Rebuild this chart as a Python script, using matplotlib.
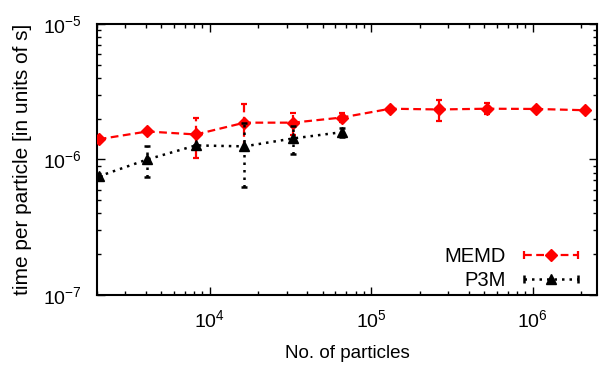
import matplotlib
matplotlib.use("Agg")
import matplotlib.pyplot as plt
from matplotlib.lines import Line2D
from matplotlib.legend_handler import HandlerLine2D, HandlerTuple
from matplotlib.ticker import LogLocator, NullFormatter
import numpy as np

plt.rcParams['font.family'] = ['Liberation Sans', 'DejaVu Sans']
plt.rcParams['mathtext.fontset'] = 'custom'
plt.rcParams['mathtext.rm'] = 'Liberation Sans'
plt.rcParams['mathtext.it'] = 'Liberation Sans'
plt.rcParams['mathtext.default'] = 'rm'

# particle counts
n_memd = [2048, 4096, 8192, 16384, 32768, 65536, 131072, 262144, 524288, 1048576, 2097152]
t_memd = [1.41e-6, 1.61e-6, 1.53e-6, 1.87e-6, 1.87e-6, 2.04e-6, 2.37e-6, 2.34e-6, 2.37e-6, 2.36e-6, 2.31e-6]
e_memd = [0.0, 0.0, 0.5e-6, 0.68e-6, 0.35e-6, 0.15e-6, 0.0, 0.42e-6, 0.22e-6, 0.0, 0.0]

n_p3m = [2048, 4096, 8192, 16384, 32768, 65536]
t_p3m = [0.75e-6, 1.0e-6, 1.27e-6, 1.25e-6, 1.43e-6, 1.59e-6]
e_p3m = [0.0, 0.26e-6, 0.0, 0.62e-6, 0.34e-6, 0.12e-6]

RED = '#ff0000'

fig = plt.figure(figsize=(6.12, 3.68), dpi=100)
ax = fig.add_axes([0.1585, 0.1984, 0.817, 0.7364])

# MEMD
eb1 = ax.errorbar(n_memd, t_memd, yerr=e_memd, color=RED, ls=(0, (3.5, 2)), lw=1.6,
                  marker='D', ms=6.5, capsize=2.3, elinewidth=1.6, capthick=1.6, zorder=3)
eb1[-1][0].set_linestyle((0, (3.5, 2)))
# P3M
eb2 = ax.errorbar(n_p3m, t_p3m, yerr=e_p3m, color='black', ls=(0, (1, 2)), lw=1.8,
                  marker='^', ms=7, capsize=2.3, elinewidth=1.8, capthick=1.8, zorder=4)
eb2[-1][0].set_linestyle((0, (1, 2)))

ax.set_xscale('log')
ax.set_yscale('log')
ax.set_xlim(2000, 2.5e6)
ax.set_ylim(1e-7, 1e-5)

ax.xaxis.set_minor_locator(LogLocator(base=10, subs=np.arange(2, 10), numticks=20))
ax.yaxis.set_minor_locator(LogLocator(base=10, subs=np.arange(2, 10), numticks=20))
ax.xaxis.set_minor_formatter(NullFormatter())
ax.yaxis.set_minor_formatter(NullFormatter())
ax.tick_params(which='both', direction='in', top=True, right=True, labelsize=14)
ax.tick_params(which='major', length=6, width=1)
ax.tick_params(which='minor', length=3, width=1)
ax.tick_params(axis='x', which='major', pad=10)
ax.tick_params(axis='y', which='major', pad=11)
for s in ax.spines.values():
    s.set_linewidth(1.5)

ax.set_xlabel('No. of particles', fontsize=13.5, labelpad=10)
ax.set_ylabel('time per particle [in units of s]', fontsize=15, labelpad=8)

# legend: line with end caps plus one marker in the middle
c1 = Line2D([], [], color=RED, ls=(0, (3.5, 2)), lw=1.6, marker='|', ms=6, mew=1.6)
m1 = Line2D([], [], color=RED, ls='none', marker='D', ms=6)
c2 = Line2D([], [], color='black', ls=(0, (1, 2)), lw=1.8, marker='|', ms=6, mew=1.8)
m2 = Line2D([], [], color='black', ls='none', marker='^', ms=6.5)
hmap = {c1: HandlerLine2D(numpoints=2), c2: HandlerLine2D(numpoints=2),
        m1: HandlerLine2D(numpoints=1), m2: HandlerLine2D(numpoints=1),
        tuple: HandlerTuple(ndivide=1)}
ax.legend([(c1, m1), (c2, m2)], ['MEMD', 'P3M'], handler_map=hmap,
          loc='lower right', bbox_to_anchor=(0.99, -0.012), frameon=False,
          markerfirst=False, fontsize=14.5,
          handlelength=3.3, handletextpad=0.6, labelspacing=0.25,
          borderaxespad=0.1, borderpad=0.3)

fig.savefig('out.png', dpi=100)
